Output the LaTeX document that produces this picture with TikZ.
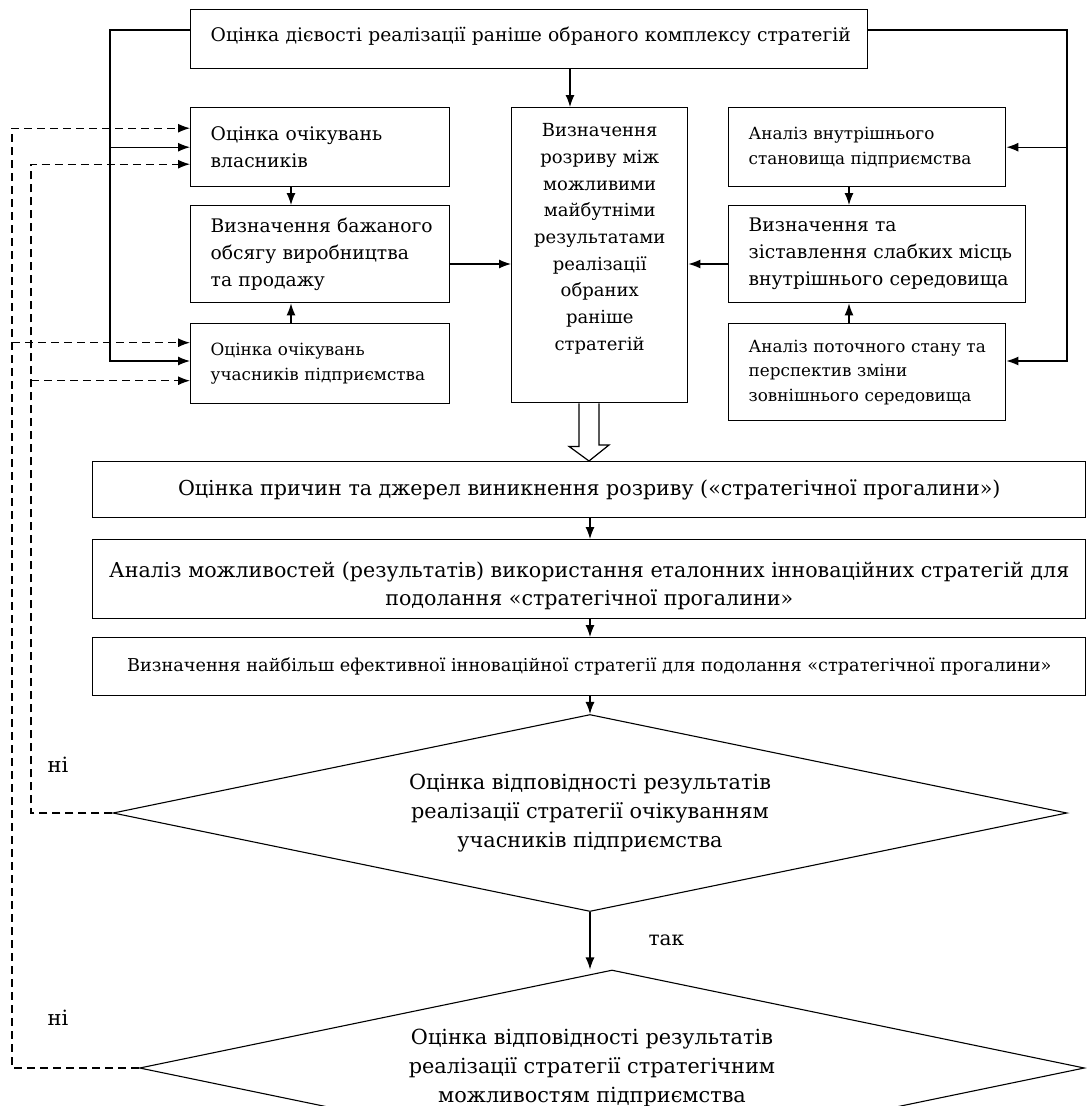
\documentclass[tikz,border=0pt]{standalone}
\usepackage{fontspec}
\setmainfont{DejaVu Serif}
\usetikzlibrary{positioning,shapes.geometric,arrows.meta,calc}

\begin{document}
\begin{tikzpicture}[x=1pt, y=-1pt, >={Latex[length=12pt,width=9pt]},
                    every node/.style={font=\fontsize{18.7}{27}\selectfont},
                    blk/.style={draw, line width=1.4pt, anchor=north west, align=left,
                                inner xsep=20pt, inner ysep=0pt},
                    wide/.style={draw, line width=1.4pt, anchor=north west, align=center,
                                 inner sep=0pt, minimum width=993pt},
                    dia/.style={draw, diamond, line width=1.1pt, align=center, inner sep=0pt,
                                aspect=4.8, font=\fontsize{20.8}{29}\selectfont},
                    small/.style={font=\fontsize{16.8}{25}\selectfont},
                    conn/.style={line width=1.2pt},
                    dsh/.style={line width=1.2pt, dash pattern=on 8pt off 5pt}]
\useasboundingbox (0,0) rectangle (1087,1106);
% upper block
\node[blk, text width=637pt, minimum height=59pt, text depth=10pt] (eval) at (190,9)
  {\mbox{Оцінка дієвості реалізації раніше обраного комплексу стратегій}};
\node[blk, text width=219pt, minimum height=79pt] (owners) at (190,107)
  {Оцінка~очікувань\\власників};
\node[blk, text width=219pt, minimum height=97pt] (volume) at (190,205)
  {Визначення~бажаного\\обсягу~виробництва\\та~продажу};
\node[blk, small, text width=219pt, minimum height=80pt] (members) at (190,323)
  {Оцінка~очікувань\\учасників~підприємства};
\node[blk, align=center, inner xsep=5pt, text width=166pt, minimum height=295pt,
      text depth=250pt, font=\fontsize{18}{26.7}\selectfont] (gap) at (511,107)
  {Визначення\\розриву~між\\можливими\\майбутніми\\результатами\\реалізації\\обраних\\раніше\\стратегій};
\node[blk, small, text width=237pt, minimum height=79pt] (internal) at (728,107)
  {Аналіз~внутрішнього\\становища~підприємства};
\node[blk, text width=257pt, minimum height=97pt] (weak) at (728,205)
  {Визначення~та\\зіставлення~слабких~місць\\внутрішнього~середовища};
\node[blk, small, text width=237pt, minimum height=97pt, font=\fontsize{16.8}{24.5}\selectfont] (external) at (728,323)
  {Аналіз~поточного~стану~та\\перспектив~зміни\\зовнішнього~середовища};
% lower block
\node[wide, minimum height=56pt, font=\fontsize{20.6}{27}\selectfont] (causes) at (92,461)
  {Оцінка причин та джерел виникнення розриву («стратегічної прогалини»)};
\node[wide, minimum height=79pt, text height=56pt, font=\fontsize{20.6}{28}\selectfont] (bench) at (92,539)
  {Аналіз можливостей (результатів) використання еталонних інноваційних стратегій для\\подолання «стратегічної прогалини»};
\node[wide, minimum height=58pt, font=\fontsize{17.7}{24}\selectfont] (best) at (92,637)
  {Визначення найбільш ефективної інноваційної стратегії для подолання «стратегічної прогалини»};
\node[dia, minimum width=954pt, minimum height=197pt] (fitmem) at (590,813)
  {Оцінка відповідності результатів\\реалізації стратегії очікуванням\\учасників підприємства};
\node[dia, minimum width=945pt, minimum height=196pt] (fitcap) at (612,1068)
  {Оцінка відповідності результатів\hspace*{40pt}\mbox{}\\реалізації стратегії стратегічним\hspace*{40pt}\mbox{}\\можливостям підприємства\hspace*{40pt}\mbox{}};
\node[inner sep=0pt, font=\fontsize{21}{25}\selectfont] (no1) at (58,765) {ні};
\node[inner sep=0pt, font=\fontsize{21}{25}\selectfont] (no2) at (58,1018) {ні};

\coordinate (lbus) at (110,30);
\coordinate (rbus) at (1067,30);
\coordinate (yb) at (0,361);
\coordinate (ym) at (0,264);
\coordinate (xt) at (570,0);
\coordinate (xl) at (291,0);
\coordinate (xr) at (849,0);
\coordinate (xm) at (590,0);
\coordinate (ha) at (589,0);
\coordinate (xi) at (31,0);
\coordinate (xo) at (12,0);

% solid connectors
\draw[conn,->] (eval.west |- lbus) -| (lbus |- yb) -- (members.west |- yb);
\draw[conn,->] (lbus |- owners.west) -- (owners.west);
\draw[conn,->] (eval.east |- rbus) -| (rbus |- yb) -- (external.east |- yb);
\draw[conn,->] (rbus |- internal.east) -- (internal.east);
\draw[conn,->] (eval.south -| xt) -- (gap.north -| xt);
\draw[conn,->] (owners.south -| xl) -- (volume.north -| xl);
\draw[conn,->] (members.north -| xl) -- (volume.south -| xl);
\draw[conn,->] (internal.south -| xr) -- (weak.north -| xr);
\draw[conn,->] (external.north -| xr) -- (weak.south -| xr);
\draw[conn,->] (volume.east |- ym) -- (gap.west |- ym);
\draw[conn,->] (weak.west |- ym) -- (gap.east |- ym);
\draw[conn, fill=white] ($(gap.south -| ha)+(-10,0)$) -- ++(0,43) -- ++(-10,0)
  -- (ha |- causes.north) -- ++(20,-16) -- ++(-10,0) -- ($(gap.south -| ha)+(10,0)$);
\draw[conn,->] (causes.south -| xm) -- (bench.north -| xm);
\draw[conn,->] (bench.south -| xm) -- (best.north -| xm);
\draw[conn,->] (best.south -| xm) -- (fitmem.north);
\draw[conn,->] (fitmem.south) -- (fitmem.south |- fitcap.north)
  node[midway, right=58pt, inner sep=0pt, font=\fontsize{20}{24}\selectfont] (yes1) {так};

% dashed feedback
\draw[dsh,->] (fitmem.west) -| ($(xi |- owners.west)+(0,17)$) -- ($(owners.west)+(0,17)$);
\draw[dsh,->] ($(xi |- members.west)+(0,17)$) -- ($(members.west)+(0,17)$);
\draw[dsh,->] (fitcap.west) -| ($(xo |- owners.west)+(0,-19)$) -- ($(owners.west)+(0,-19)$);
\draw[dsh,->] ($(xo |- members.west)+(0,-21)$) -- ($(members.west)+(0,-21)$);
\end{tikzpicture}
\end{document}
